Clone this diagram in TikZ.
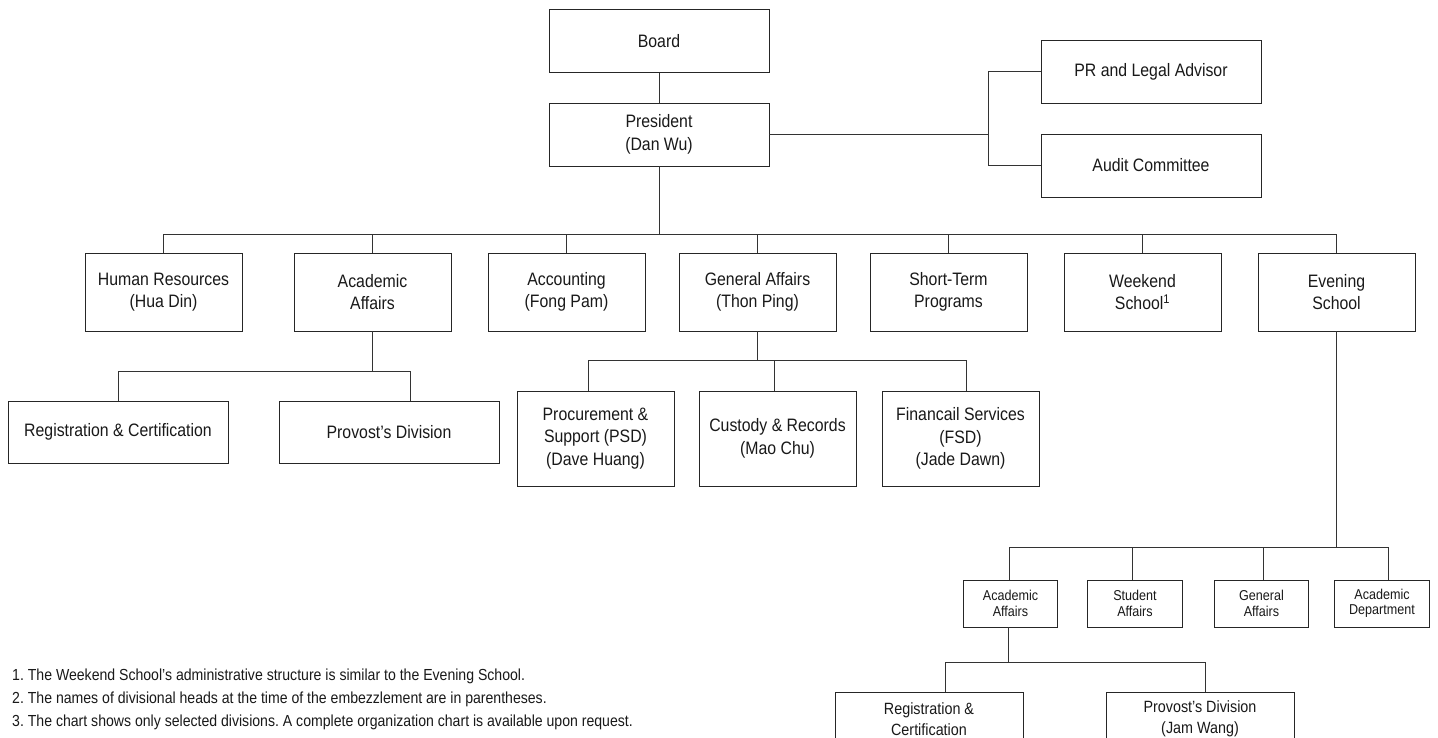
\documentclass[tikz,border=0pt]{standalone}
\usepackage{fontspec}
\setmainfont[FakeStretch=0.88]{Liberation Sans}
\frenchspacing
\begin{document}
\begin{tikzpicture}[x=1pt,y=-1pt,
  box/.style={draw=black!85,line width=0.9pt,inner sep=0pt,align=center,text=black!90,font=\fontsize{18}{22.5}\selectfont},
  bigbox/.style={box,minimum width=220pt,minimum height=63pt},
  midbox/.style={box,minimum width=157pt,minimum height=78pt},
  lowbox/.style={box,minimum width=157pt,minimum height=95pt},
  smallbox/.style={box,minimum width=94.5pt,minimum height=47pt,font=\fontsize{14.3}{15.5}\selectfont},
  botbox/.style={box,minimum width=188pt,minimum height=54pt,font=\fontsize{16.3}{21.5}\selectfont},
  conn/.style={draw=black!80,line width=0.9pt},
  note/.style={anchor=base west,inner sep=0pt,text=black!90,font=\fontsize{16}{20}\selectfont}]
\clip (0,0) rectangle (1438,738);
\fill[white] (0,0) rectangle (1438,738);
% top
\node[bigbox] (board) at (659,41) {Board};
\node[bigbox] (pres) at (659,134.5) {President\\(Dan Wu)};
\node[bigbox] (pr) at (1151,71.5) {PR and Legal Advisor};
\node[bigbox] (audit) at (1151,165.5) {Audit Committee};
% level 2
\node[midbox] (hr) at (163.5,292) {Human Resources\\(Hua Din)};
\node[midbox] (aa) at (372.5,292) {Academic\\Affairs};
\node[midbox] (acc) at (566.5,292) {Accounting\\(Fong Pam)};
\node[midbox] (ga) at (757.5,292) {General Affairs\\(Thon Ping)};
\node[midbox] (st) at (948.5,292) {Short-Term\\Programs};
\node[midbox] (we) at (1142.5,292) {Weekend\\School\textsuperscript{1}};
\node[midbox] (ev) at (1336.5,292) {Evening\\School};
% academic affairs children
\node[bigbox,minimum height=62pt] (reg) at (118,432) {Registration \& Certification};
\node[bigbox,minimum height=62pt] (prov) at (389,432) {Provost’s Division};
% general affairs children
\node[lowbox] (proc) at (595.5,438.5) {Procurement \&\\Support (PSD)\\(Dave Huang)};
\node[lowbox] (cust) at (777.5,438.5) {Custody \& Records\\(Mao Chu)};
\node[lowbox] (fin) at (960.5,438.5) {Financail Services\\(FSD)\\(Jade Dawn)};
% evening school children
\node[smallbox] (aa2) at (1010.5,603.5) {Academic\\Affairs};
\node[smallbox] (sa) at (1135,603.5) {Student\\Affairs};
\node[smallbox] (ga2) at (1261.5,603.5) {General\\Affairs};
\node[smallbox] (ad) at (1382,603.5) {Academic\\Department};
\node[botbox] (reg2) at (929,719) {Registration \&\\Certification};
\node[botbox] (prov2) at (1200,719) {Provost’s Division\\(Jam Wang)};
% junctions
\coordinate (br) at (988,134.5);
\coordinate (j0) at (659,234);
\coordinate (j1) at (372.5,371);
\coordinate (j2) at (757.5,360);
\coordinate (j3) at (1336.5,547);
\coordinate (j4) at (1008,662);
% connectors
\draw[conn] (board) -- (pres);
\draw[conn] (pres.east) -- (br);
\draw[conn] (pr.west) -| (br);
\draw[conn] (audit.west) -| (br);
\draw[conn] (pres.south) -- (j0);
\foreach \n in {hr,aa,acc,ga,st,we,ev} {\draw[conn] (\n.north) |- (j0);}
\draw[conn] (aa.south) -- (j1);
\draw[conn] (reg.north) |- (j1);
\draw[conn] ([xshift=21pt]prov.north) |- (j1);
\draw[conn] (ga.south) -- (j2);
\draw[conn] ([xshift=-7pt]proc.north) |- (j2);
\draw[conn] ([xshift=-3pt]cust.north) |- (j2);
\draw[conn] ([xshift=6pt]fin.north) |- (j2);
\draw[conn] (ev.south) -- (j3);
\draw[conn] ([xshift=-1.5pt]aa2.north) |- (j3);
\draw[conn] ([xshift=-2.5pt]sa.north) |- (j3);
\draw[conn] ([xshift=1.5pt]ga2.north) |- (j3);
\draw[conn] ([xshift=6.5pt]ad.north) |- (j3);
\draw[conn] ([xshift=-2.5pt]aa2.south) -- (j4);
\draw[conn] ([xshift=16.5pt]reg2.north) |- (j4);
\draw[conn] ([xshift=5pt]prov2.north) |- (j4);
% notes
\node[note] (n1) at (12,680) {1. The Weekend School’s administrative structure is similar to the Evening School.};
\node[note] (n2) at (12,703) {2. The names of divisional heads at the time of the embezzlement are in parentheses.};
\node[note] (n3) at (12,726) {3. The chart shows only selected divisions. A complete organization chart is available upon request.};
\end{tikzpicture}
\end{document}
